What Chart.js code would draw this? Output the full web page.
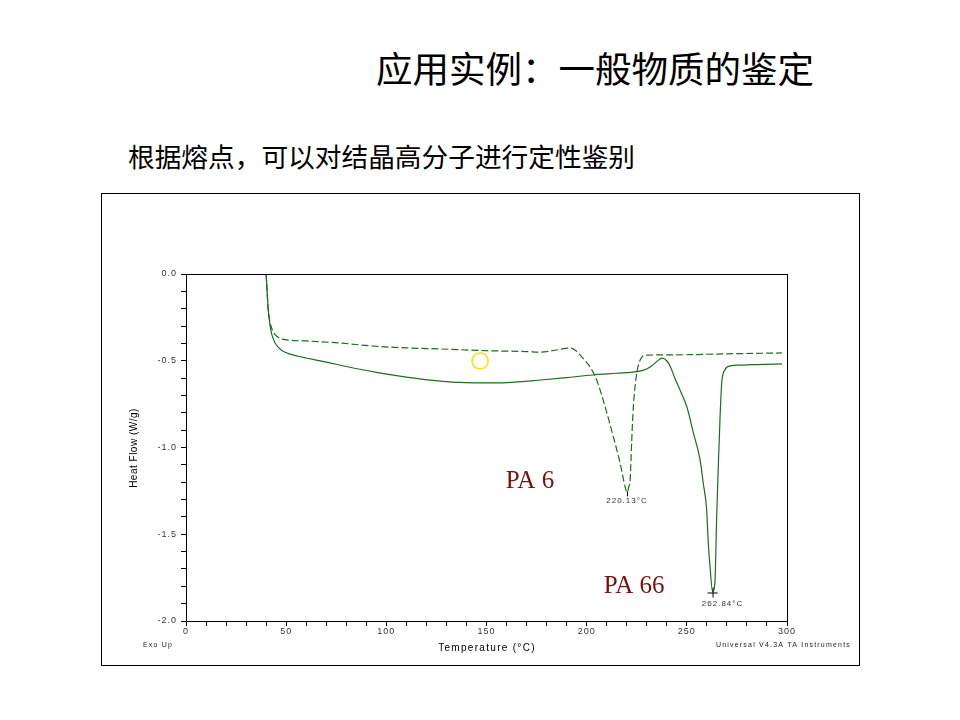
<!DOCTYPE html>
<html><head><meta charset="utf-8">
<script src="https://cdn.jsdelivr.net/npm/chart.js@4.4.1/dist/chart.umd.min.js"></script>
<style>
html,body{margin:0;padding:0;background:#fff;width:960px;height:720px;overflow:hidden;}
#title{position:absolute;left:0;width:1190px;top:44px;text-align:center;font-family:"Noto Sans CJK SC";font-size:36.5px;color:#000;line-height:48px;}
#sub{position:absolute;left:128px;top:139px;font-family:"Noto Sans CJK SC";font-size:26.7px;color:#000;line-height:34px;}
#box{position:absolute;left:101px;top:193px;width:757px;height:471px;border:1px solid #000;}
canvas{position:absolute;left:0;top:0;}
</style></head>
<body>
<div id="title">应用实例：一般物质的鉴定</div>
<div id="sub">根据熔点，可以对结晶高分子进行定性鉴别</div>
<div id="box"></div>
<canvas id="c" width="960" height="720"></canvas>
<script>
// PA 66 (solid)
const pa66T = [40,40.5,41,42,43,44.5,46,48,52,56,60,70,80,95,110,127,140,150,160,177,190,203,215,225,230,233,236,237.6,240,242,244,246.6,250,253.3,256.6,258.2,259.9,260.7,261.6,262.84,264,264.9,265.7,266.6,267.4,269,271.6,276.6,285,297.5];
const pa66V = [0.0,-0.1,-0.2,-0.3,-0.355,-0.398,-0.422,-0.442,-0.462,-0.474,-0.484,-0.508,-0.533,-0.567,-0.594,-0.617,-0.626,-0.628,-0.626,-0.611,-0.597,-0.582,-0.572,-0.563,-0.548,-0.525,-0.495,-0.485,-0.5,-0.54,-0.6,-0.669,-0.765,-0.917,-1.07,-1.206,-1.36,-1.55,-1.69,-1.83,-1.78,-1.40,-1.11,-0.82,-0.63,-0.553,-0.53,-0.525,-0.522,-0.518];
// PA 6 (dashed)
const pa6T = [40,40.5,41,42,43,44.5,46,48,52,60,77,93,110,127,150,170,177,185,191.7,195,198,201.7,205,209.2,213.3,216.7,219.2,220.13,221.2,221.7,222.5,223.3,225,226.7,229.2,243,270,297.5];
const pa6V = [0.0,-0.1,-0.2,-0.28,-0.32,-0.35,-0.365,-0.375,-0.382,-0.386,-0.398,-0.415,-0.426,-0.432,-0.442,-0.447,-0.45,-0.438,-0.427,-0.445,-0.484,-0.536,-0.611,-0.765,-0.938,-1.09,-1.227,-1.258,-1.22,-1.187,-0.957,-0.765,-0.572,-0.496,-0.468,-0.466,-0.46,-0.455];
const peakLabels = [{t:220.13, v:-1.258, text:"220.13°C", mark:"tick"},{t:262.84, v:-1.83, text:"262.84°C", mark:"plus"}];
const seriesNames = [{t:171.7, v:-1.193, text:"PA 6"},{t:223.7, v:-1.798, text:"PA 66"}];
const circleMark = {t:146.8, v:-0.501};

const green = '#1b6e1b';
const toPts = (T,V)=>T.map((t,i)=>({x:t,y:V[i]}));

const frame = {
  id:'frame',
  beforeDraw(chart){ chart.ctx.letterSpacing='1px'; },
  afterDraw(chart){
    const ctx=chart.ctx, a=chart.chartArea, xs=chart.scales.x, ys=chart.scales.y;
    ctx.save();
    ctx.letterSpacing='0px';
    ctx.strokeStyle='#000'; ctx.lineWidth=1;
    ctx.strokeRect(Math.round(a.left)+0.5, Math.round(a.top)+0.5, Math.round(a.right-a.left), Math.round(a.bottom-a.top));
    // peak annotations
    ctx.font='8px "Liberation Sans"'; ctx.letterSpacing='1px'; ctx.fillStyle='#333'; ctx.textAlign='center'; ctx.textBaseline='middle';
    peakLabels.forEach(p=>{
      const px=xs.getPixelForValue(p.t), py=ys.getPixelForValue(p.v);
      ctx.strokeStyle='#000'; ctx.lineWidth=1;
      ctx.beginPath();
      if(p.mark==='plus'){ ctx.moveTo(px-5,py+1.5); ctx.lineTo(px+5,py+1.5); ctx.moveTo(px+0.5,py-4); ctx.lineTo(px+0.5,py+6); }
      else { ctx.moveTo(px+0.5,py-1); ctx.lineTo(px+0.5,py+4); }
      ctx.stroke();
      ctx.fillText(p.text, px + (p.mark==='plus'?10:0), py + (p.mark==='plus'?12:9));
    });
    // series names
    ctx.letterSpacing='0px';
    ctx.font='25px "Liberation Serif"'; ctx.fillStyle='#7a0f0f';
    seriesNames.forEach(s=>{ ctx.fillText(s.text, xs.getPixelForValue(s.t), ys.getPixelForValue(s.v)); });
    // yellow circle
    ctx.strokeStyle='#f2e52a'; ctx.lineWidth=1.8;
    ctx.beginPath(); ctx.arc(xs.getPixelForValue(circleMark.t), ys.getPixelForValue(circleMark.v), 8, 0, Math.PI*2); ctx.stroke();
    // axis titles & footers
    ctx.fillStyle='#000'; ctx.font='10px "Liberation Sans"'; ctx.letterSpacing='1.3px';
    ctx.fillText('Temperature (°C)', 487, 648);
    ctx.save(); ctx.translate(134,448); ctx.rotate(-Math.PI/2); ctx.letterSpacing='0.5px'; ctx.fillText('Heat Flow (W/g)',0,0); ctx.restore();
    ctx.font='7px "Liberation Sans"'; ctx.fillStyle='#222'; ctx.letterSpacing='1.2px';
    ctx.textAlign='left'; ctx.fillText('Exo Up', 143, 645);
    ctx.textAlign='right'; ctx.fillText('Universal V4.3A TA Instruments', 851, 645);
    ctx.restore();
  }
};

new Chart(document.getElementById('c'), {
  type:'line',
  data:{datasets:[
    {label:'PA 66', data:toPts(pa66T,pa66V), borderColor:green, borderWidth:1.2, pointRadius:0, cubicInterpolationMode:'monotone', fill:false},
    {label:'PA 6', data:toPts(pa6T,pa6V), borderColor:green, borderWidth:1.2, borderDash:[7,3], pointRadius:0, cubicInterpolationMode:'monotone', fill:false}
  ]},
  options:{
    responsive:false, animation:false, devicePixelRatio:1,
    layout:{padding:{left:100, top:274, right:173, bottom:79}},
    plugins:{legend:{display:false}, tooltip:{enabled:false}},
    scales:{
      x:{type:'linear', min:0, max:300,
         afterFit(s){ s.height=20; },
         border:{display:true,color:'#000',width:1},
         grid:{drawOnChartArea:false, drawTicks:true, tickLength:5, color:'#000'},
         ticks:{stepSize:10, autoSkip:false, maxRotation:0, padding:0, color:'#333', font:{family:'Liberation Sans', size:9},
           callback:(v)=> v%50===0 ? String(v) : ''}},
      y:{type:'linear', min:-2, max:0,
         afterFit(s){ s.width=86; },
         border:{display:true,color:'#000',width:1},
         grid:{drawOnChartArea:false, drawTicks:true, tickLength:5, color:'#000'},
         ticks:{stepSize:0.1, autoSkip:false, padding:4, color:'#333', font:{family:'Liberation Sans', size:9},
           callback:(v)=>{ const r=Math.round(v*10); return r%5===0 ? (r/10).toFixed(1) : ''; }}}
    }
  },
  plugins:[frame]
});
</script>
</body></html>
